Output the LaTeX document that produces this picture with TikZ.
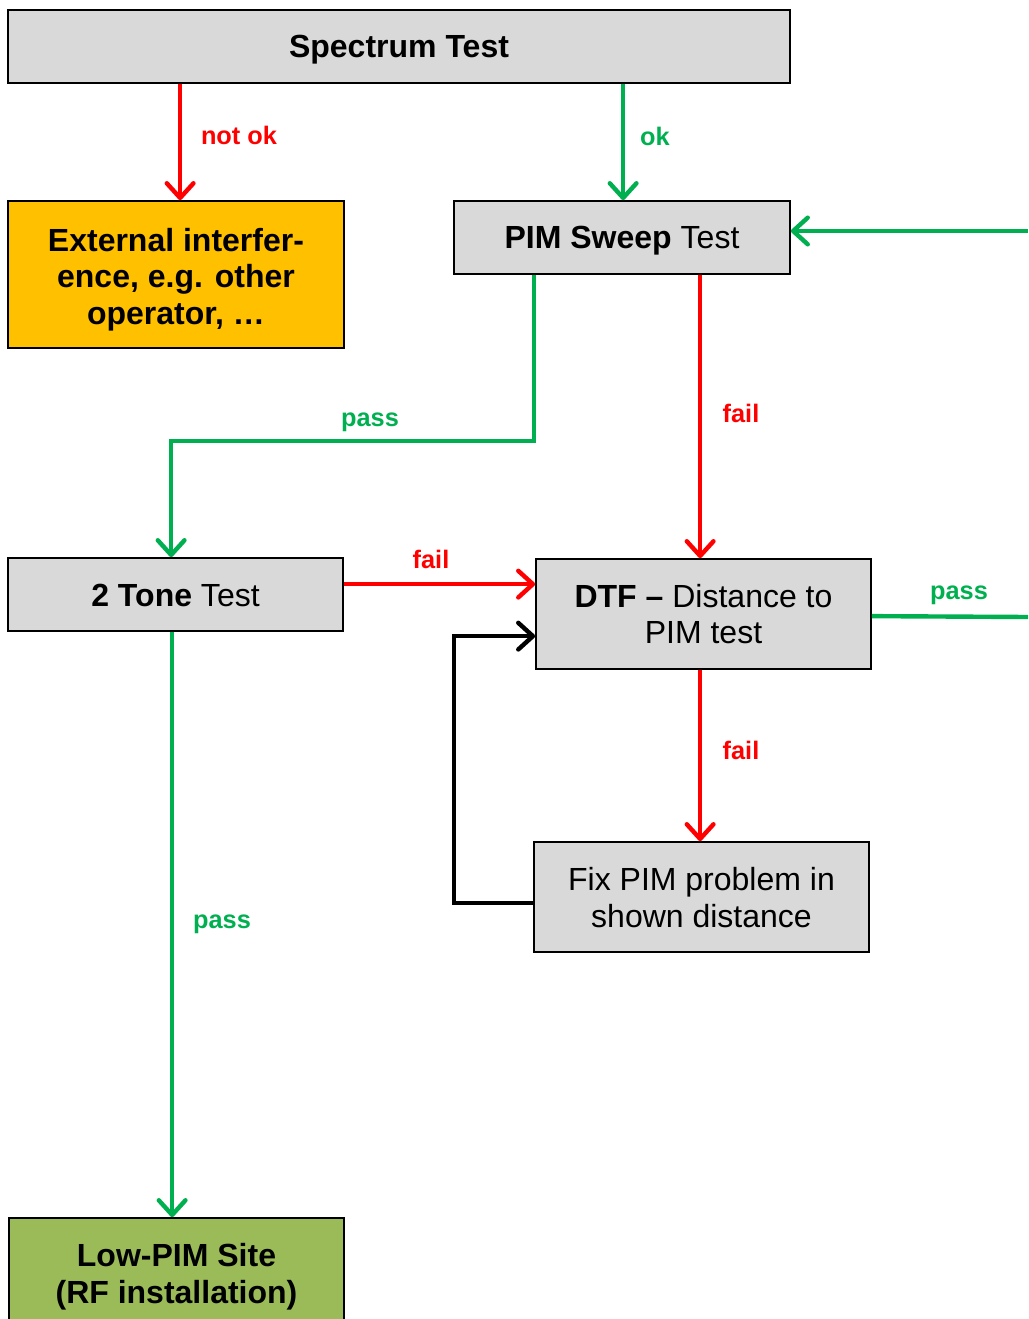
\documentclass[tikz,border=0pt]{standalone}
\usepackage{fontspec}
\setmainfont{Liberation Sans}
\usetikzlibrary{arrows.meta,calc}
\definecolor{boxgray}{HTML}{D9D9D9}
\definecolor{boxorange}{HTML}{FFC000}
\definecolor{boxgreen}{HTML}{9BBB59}
\definecolor{lred}{HTML}{FF0000}
\definecolor{lgreen}{HTML}{00B050}
\begin{document}
\begin{tikzpicture}[x=0.75pt,y=-0.75pt,
  box/.style={draw=black,line width=1.3pt,fill=boxgray,minimum width=#1*0.75pt,inner sep=0pt},
  boxtext/.style={inner sep=0pt,align=center,font=\fontsize{24}{27.5}\selectfont},
  conn/.style={line width=3.3pt,-{Straight Barb[length=11pt,width=20pt,line width=3.3pt,round]}},
  redc/.style={conn,draw=lred},
  greenc/.style={conn,draw=lgreen},
  blackc/.style={conn,draw=black},
  lbl/.style={font=\bfseries\fontsize{19}{22}\selectfont,inner sep=0pt}
]
\useasboundingbox (0,0) rectangle (1028,1319);
\begin{scope}
\clip (0,0) rectangle (1028,1319);
\node[box=782,minimum height=73*0.75pt] (spec) at (399,46.5) {};
\node[boxtext] (spect) at ($(spec)+(0,3)$) {\textbf{Spectrum Test}};
\node[box=336,minimum height=147*0.75pt,fill=boxorange] (ext) at (176,274.5) {};
\node[boxtext] (extt) at ($(ext)+(0,5)$) {\textbf{External interfer-}\\\textbf{ence, e.g. other}\\\textbf{operator, …}};
\node[box=336,minimum height=73*0.75pt] (pim) at (622,237.5) {};
\node[boxtext] (pimt) at ($(pim)+(0,3)$) {\textbf{PIM Sweep} Test};
\node[box=335,minimum height=73*0.75pt] (tone) at (175.5,594.5) {};
\node[boxtext] (tonet) at ($(tone)+(0,1)$) {\textbf{2 Tone} Test};
\node[box=335,minimum height=110*0.75pt] (dtf) at (703.5,614) {};
\node[boxtext] (dtft) at (dtf) {\textbf{DTF –} Distance to\\PIM test};
\node[box=335,minimum height=110*0.75pt] (fix) at (701.5,897) {};
\node[boxtext] (fixt) at ($(fix)+(0,0.5)$) {Fix PIM problem in\\shown distance};
\node[box=335,minimum height=110*0.75pt,fill=boxgreen] (low) at (176.5,1273) {};
\node[boxtext] (lowt) at ($(low)+(0,4)$) {\textbf{Low-PIM Site}\\\textbf{(RF installation)}};

\coordinate (r1) at (1028,231);
\coordinate (r2) at (1028,617);

\draw[redc] ($(spec.south west)+(173,0)$) -- ($(ext.north west)+(173,0)$);
\draw[greenc] ($(spec.south west)+(616,0)$) -- ($(pim.north west)+(170,0)$);
\draw[greenc] (r1) -- (r1 -| pim.east);
\draw[greenc] ($(pim.south west)+(81,0)$) -- ++(0,166) -| ($(tone.north west)+(164,0)$);
\draw[redc] ($(pim.south west)+(247,0)$) -- ($(dtf.north west)+(165,0)$);
\draw[redc] ($(tone.north east)+(0,27)$) coordinate (tf) -- (tf -| dtf.west);
\draw[line width=3.3pt,draw=lgreen] ($(dtf.north east)+(0,58)$) -- (r2);
\draw[redc] ($(dtf.south west)+(165,0)$) -- ($(fix.north west)+(167,0)$);
\draw[blackc] ($(fix.west)+(0,6)$) -- ++(-79,0) |- ($(dtf.north west)+(0,78)$);
\draw[greenc] ($(tone.south west)+(165,0)$) -- ($(low.north west)+(164,0)$);

\node[lbl,text=lred] (l1) at (239,135) {not ok};
\node[lbl,text=lgreen] (l2) at (655,136) {ok};
\node[lbl,text=lgreen] (l3) at (370,422) {pass};
\node[lbl,text=lred] (l4) at (741,413) {fail};
\node[lbl,text=lred] (l5) at (431,559) {fail};
\node[lbl,text=lgreen] (l6) at (959,595) {pass};
\node[lbl,text=lred] (l7) at (741,750) {fail};
\node[lbl,text=lgreen] (l8) at (222,924) {pass};
\end{scope}
\end{tikzpicture}
\end{document}
